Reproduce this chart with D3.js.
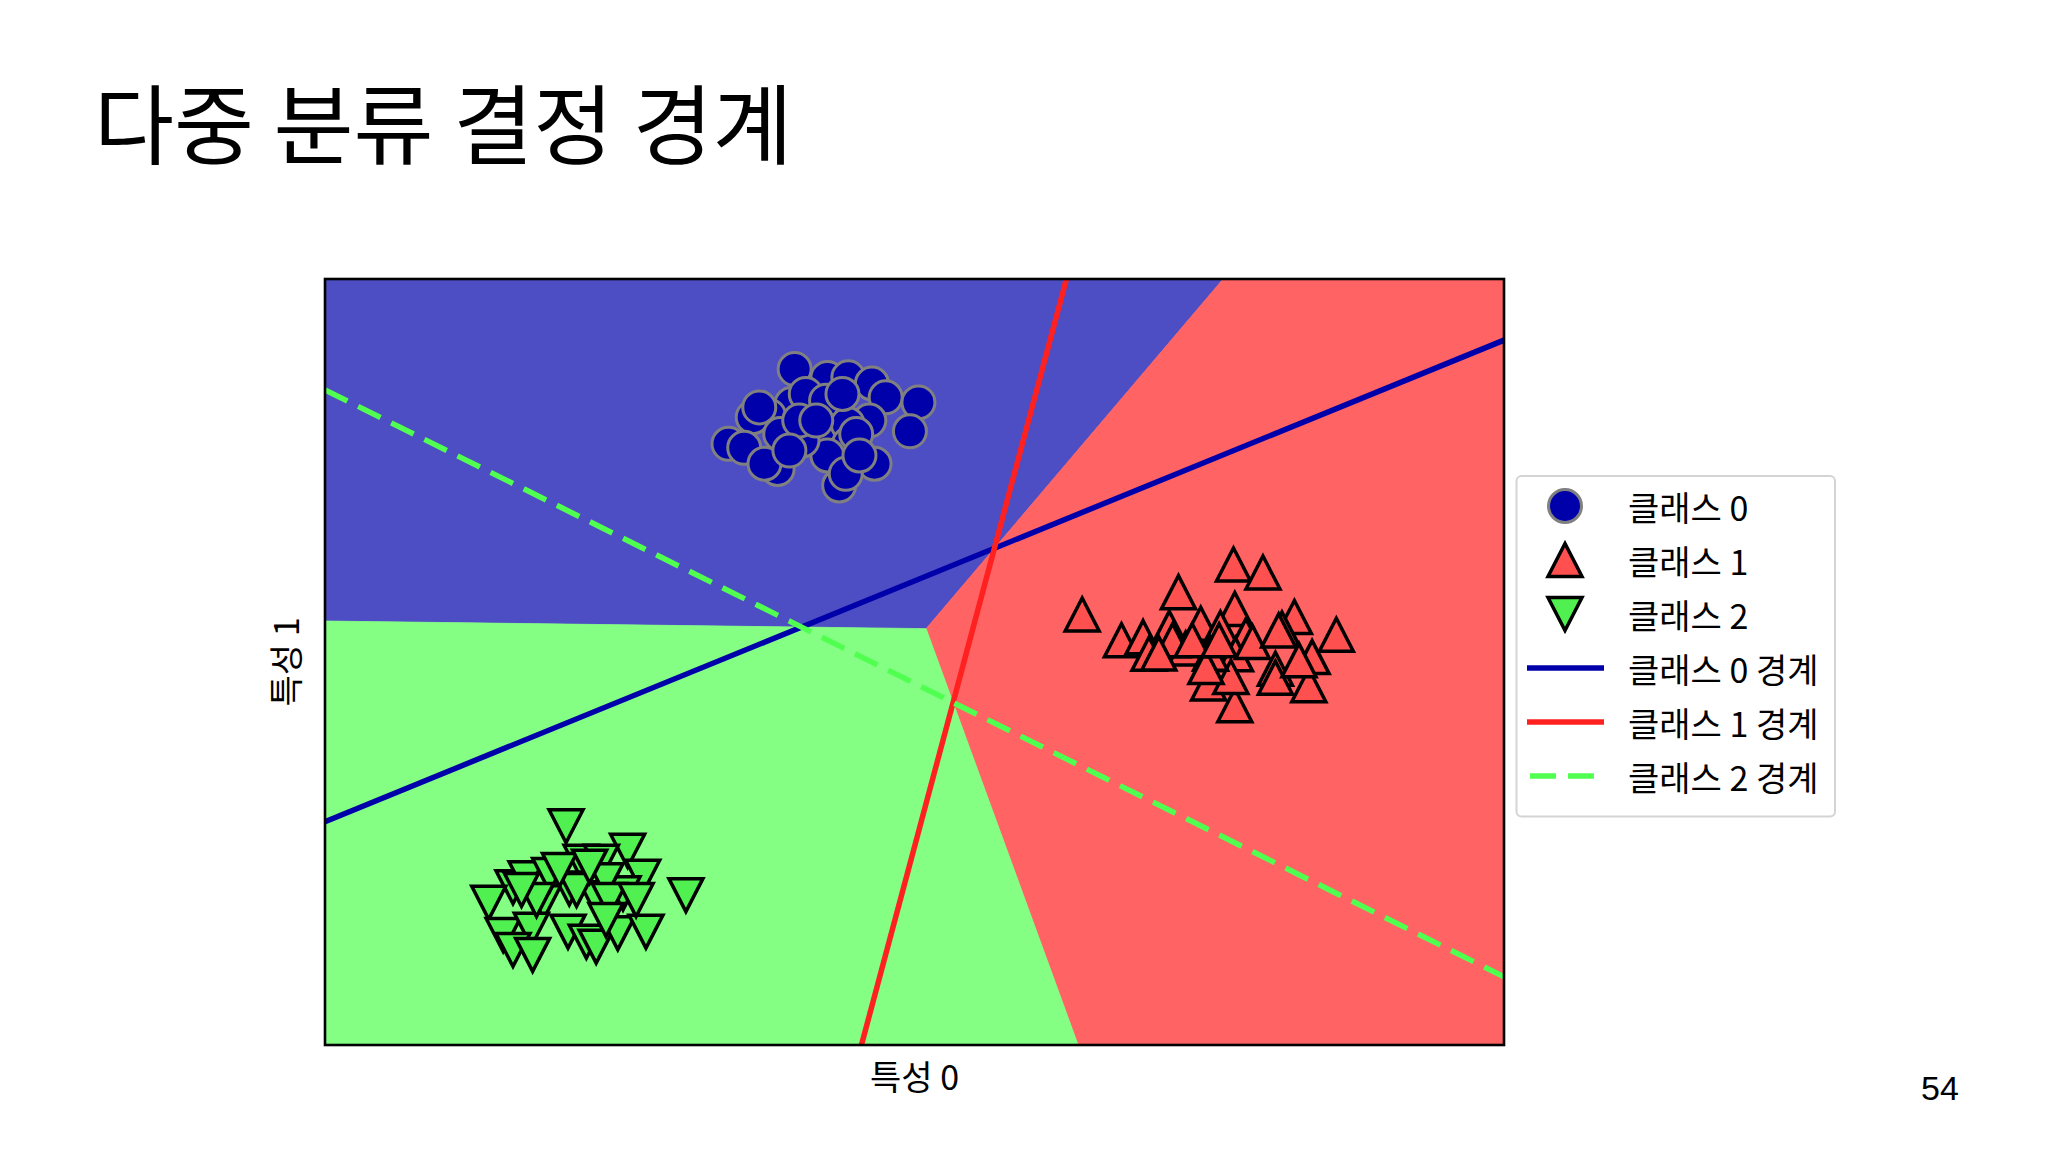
<!DOCTYPE html>
<html><head><meta charset="utf-8">
<script src="https://cdn.jsdelivr.net/npm/d3@7"></script>
<style>body{margin:0;background:#fff;} svg{display:block;}</style>
</head><body><svg id="c" width="2048" height="1152"></svg>
<script>
// ---------- data ----------
const titleText = "다중 분류 결정 경계";
const xLabel = "특성 0";
const yLabel = "특성 1";
const pageNumber = "54";
const xDomain = [-10, 8];
const yDomain = [-10, 15];
const classNames = ["클래스 0", "클래스 1", "클래스 2"];
const boundaryNames = ["클래스 0 경계", "클래스 1 경계", "클래스 2 경계"];
// linear decision functions f_i(x,y) = coef[i][0]*x + coef[i][1]*y + intercept[i]
const coef = [[-0.873, 1.0], [2.40, -0.3004], [-0.9236, -0.868]];
const intercept = [-6.02, 1.3394, 0.642];

const class0 = [[-2.83,12.06],[-2.33,11.77],[-2.01,11.79],[-1.65,11.59],[-1.44,11.14],[-0.94,10.97],
 [-1.07,10.03],[-1.69,10.38],[-2.88,10.92],[-2.66,11.25],[-2.35,11.03],[-3.22,10.54],[-3.47,10.49],
 [-3.05,9.94],[-3.84,9.62],[-3.60,9.49],[-3.09,8.80],[-3.29,8.97],[-2.40,9.94],[-2.02,10.27],
 [-2.00,9.62],[-2.33,9.24],[-1.61,8.97],[-2.15,8.26],[-2.05,8.64],[-2.71,9.73],[-2.76,10.38],
 [-2.10,11.25],[-3.37,10.81],[-2.91,9.40],[-1.89,9.94],[-2.50,10.38],[-1.84,9.24]];
const class1 = [[1.56,4.05],[3.87,5.68],[4.32,5.42],[3.03,4.78],[2.16,3.21],[2.49,3.31],[2.89,3.62],
 [3.37,3.75],[3.89,4.23],[3.67,3.61],[4.80,3.97],[4.61,3.59],[5.44,3.39],[2.58,2.77],[3.14,2.94],
 [4.06,3.37],[5.07,2.66],[4.51,2.28],[5.02,1.74],[3.49,1.80],[3.89,1.09],[3.90,2.75],[3.83,2.01],
 [4.51,1.99],[4.16,3.15],[3.52,2.77],[2.94,3.21],[3.45,2.34],[4.56,3.53],[2.73,2.78],[3.24,3.21],
 [3.65,3.21],[4.87,2.56]];
const class2 = [[-6.32,-2.86],[-5.38,-3.66],[-6.09,-4.02],[-5.78,-4.02],[-5.15,-4.51],[-4.49,-5.11],
 [-7.13,-4.85],[-7.50,-5.36],[-6.66,-5.34],[-6.27,-4.89],[-5.86,-5.21],[-5.45,-5.05],[-6.93,-4.56],
 [-6.57,-4.45],[-5.71,-4.62],[-7.28,-6.41],[-6.85,-6.24],[-7.13,-6.90],[-6.83,-7.06],[-6.29,-6.30],
 [-6.01,-6.63],[-5.86,-6.79],[-5.53,-6.35],[-5.10,-6.30],[-6.77,-5.27],[-6.16,-4.94],[-5.66,-5.27],
 [-5.25,-5.27],[-7.00,-4.94],[-6.42,-4.29],[-5.96,-4.18],[-5.71,-5.92]];
const classPoints = [class0, class1, class2];

// ---------- styles ----------
const regionColors = ["#4d4dc4", "#ff6363", "#84ff84"];
const lineColors = ["#0000aa", "#ff2020", "#50ff50"];
const markerFill = ["#0000aa", "#ff5050", "#4ff04f"];
const markerStroke = ["#808080", "#000000", "#000000"];
const FONT = "'Noto Sans CJK KR','Noto Sans',sans-serif";

const svg = d3.select("#c");
const plot = {left: 325, right: 1504, top: 279, bottom: 1045};
const x = d3.scaleLinear().domain(xDomain).range([plot.left, plot.right]);
const y = d3.scaleLinear().domain(yDomain).range([plot.bottom, plot.top]);

svg.append("defs").append("clipPath").attr("id", "pc")
  .append("rect").attr("x", plot.left).attr("y", plot.top)
  .attr("width", plot.right - plot.left).attr("height", plot.bottom - plot.top);

// title
svg.append("text").attr("x", 94).attr("y", 120).attr("dominant-baseline", "central")
  .style("font-family", FONT).style("font-size", "87px").attr("fill", "#000").text(titleText);

// decision regions: argmax of linear functions, clipped to domain box
function clipPoly(poly, a, b, c) {
  const out = [];
  for (let k = 0; k < poly.length; k++) {
    const P = poly[k], Q = poly[(k + 1) % poly.length];
    const fp = a * P[0] + b * P[1] + c, fq = a * Q[0] + b * Q[1] + c;
    if (fp >= 0) out.push(P);
    if ((fp >= 0) !== (fq >= 0)) {
      const t = fp / (fp - fq);
      out.push([P[0] + t * (Q[0] - P[0]), P[1] + t * (Q[1] - P[1])]);
    }
  }
  return out;
}
const box = [[xDomain[0], yDomain[0]], [xDomain[1], yDomain[0]], [xDomain[1], yDomain[1]], [xDomain[0], yDomain[1]]];
const gPlot = svg.append("g").attr("clip-path", "url(#pc)");
for (let i = 0; i < 3; i++) {
  let poly = box;
  for (let j = 0; j < 3; j++) {
    if (j === i) continue;
    poly = clipPoly(poly, coef[i][0] - coef[j][0], coef[i][1] - coef[j][1], intercept[i] - intercept[j]);
  }
  if (poly.length < 3) continue;
  gPlot.append("path")
    .attr("d", d3.line().x(d => x(d[0])).y(d => y(d[1]))(poly) + "Z")
    .attr("fill", regionColors[i]).attr("stroke", regionColors[i]).attr("stroke-width", 0.8);
}

// markers
const triUp = "M0,-16.5L17,16.5L-17,16.5Z";
const triDown = "M0,16.5L17,-16.5L-17,-16.5Z";
function drawMarker(g, cls, cx, cy) {
  if (cls === 0) {
    g.append("circle").attr("cx", cx).attr("cy", cy).attr("r", 16.5)
      .attr("fill", markerFill[0]).attr("stroke", markerStroke[0]).attr("stroke-width", 3);
  } else {
    g.append("path").attr("d", cls === 1 ? triUp : triDown)
      .attr("transform", `translate(${cx},${cy})`)
      .attr("fill", markerFill[cls]).attr("stroke", markerStroke[cls])
      .attr("stroke-width", 3.5).attr("stroke-linejoin", "miter");
  }
}
classPoints.forEach((pts, cls) => {
  pts.forEach(p => drawMarker(gPlot, cls, x(p[0]), y(p[1])));
});

// boundary lines y = -(c0*x + b)/c1, drawn across the visible x range
const lineX = [xDomain[0], xDomain[1]];
coef.forEach((c, i) => {
  const pts = lineX.map(v => [v, -(c[0] * v + intercept[i]) / c[1]]);
  gPlot.append("path")
    .attr("d", d3.line().x(d => x(d[0])).y(d => y(d[1]))(pts))
    .attr("fill", "none").attr("stroke", lineColors[i]).attr("stroke-width", 5.5)
    .attr("stroke-dasharray", i === 2 ? "25,12" : null);
});

// frame
svg.append("rect").attr("x", plot.left).attr("y", plot.top)
  .attr("width", plot.right - plot.left).attr("height", plot.bottom - plot.top)
  .attr("fill", "none").attr("stroke", "#000").attr("stroke-width", 2.6);

// axis labels
svg.append("text").attr("x", (plot.left + plot.right) / 2).attr("y", 1075)
  .attr("text-anchor", "middle").attr("dominant-baseline", "central")
  .style("font-family", FONT).style("font-size", "34px").text(xLabel);
svg.append("text").attr("transform", `translate(284,${(plot.top + plot.bottom) / 2}) rotate(-90)`)
  .attr("text-anchor", "middle").attr("dominant-baseline", "central")
  .style("font-family", FONT).style("font-size", "34px").text(yLabel);

// legend
const lg = svg.append("g");
lg.append("rect").attr("x", 1516.5).attr("y", 476).attr("width", 318.5).attr("height", 340.5)
  .attr("rx", 5).attr("fill", "#fff").attr("stroke", "#d4d4d4").attr("stroke-width", 2);
const legendLabels = classNames.concat(boundaryNames);
legendLabels.forEach((lab, k) => {
  const cy = 506 + k * 54;
  if (k < 3) drawMarker(lg, k, 1565, cy);
  else {
    const i = k - 3;
    lg.append("line").attr("x1", i === 2 ? 1530 : 1527).attr("x2", 1604).attr("y1", cy).attr("y2", cy)
      .attr("stroke", lineColors[i]).attr("stroke-width", 5.5)
      .attr("stroke-dasharray", i === 2 ? "26,12" : null);
  }
  lg.append("text").attr("x", 1628).attr("y", cy).attr("dominant-baseline", "central")
    .style("font-family", FONT).style("font-size", "34px").text(lab);
});

// page number
svg.append("text").attr("x", 1940).attr("y", 1100).attr("text-anchor", "middle")
  .style("font-family", "'Liberation Sans',Arial,sans-serif").style("font-size", "34px").text(pageNumber);
</script></body></html>
